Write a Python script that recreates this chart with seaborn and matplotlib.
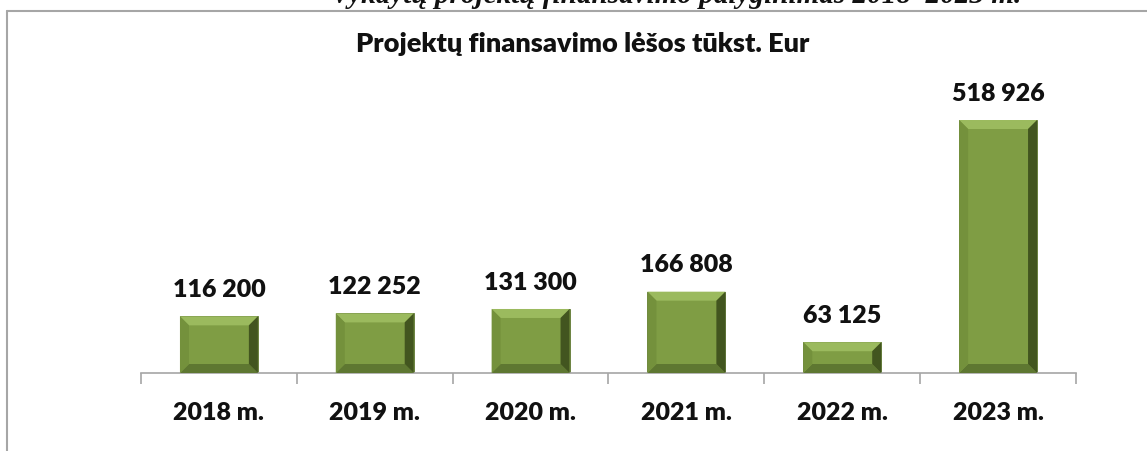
import matplotlib
matplotlib.use("Agg")
import matplotlib.pyplot as plt
import seaborn as sns
import pandas as pd
from matplotlib.patches import Polygon
from matplotlib.lines import Line2D

years = ["2018 m.", "2019 m.", "2020 m.", "2021 m.", "2022 m.", "2023 m."]
values = [116200, 122252, 131300, 166808, 63125, 518926]
value_labels = ["116 200", "122 252", "131 300", "166 808", "63 125", "518 926"]
chart_title = "Projektų finansavimo lėšos tūkst. Eur"
page_title = "Vykdytų projektų finansavimo palyginimas 2018–2023 m."

sns.set_theme(style="white")
plt.rcParams['font.family'] = ['Lato', 'DejaVu Sans']

W, H = 1147, 451
fig = plt.figure(figsize=(W / 100, H / 100), dpi=100)
ax = fig.add_axes([141 / W, 1 - 373 / H, (1076 - 141) / W, (373 - 60) / H])

df = pd.DataFrame({"year": years, "value": values})
face = "#7F9D44"
sns.barplot(data=df, x="year", y="value", color=face, width=0.5, ax=ax,
            saturation=1, edgecolor="#5F7832", linewidth=0.6)

ax.set_xlim(-0.5, 5.5)
ax.set_ylim(0, 642000)
ax.set_yticks([])
ax.set_xlabel("")
ax.set_ylabel("")
for s in ["top", "right", "left"]:
    ax.spines[s].set_visible(False)
ax.spines["bottom"].set_color("#A6A6A6")
ax.spines["bottom"].set_linewidth(1.2)
ax.set_xticks(range(len(years)))
ax.set_xticklabels(years, fontsize=18, fontweight="heavy", color="#111111")
ax.tick_params(axis="x", which="major", length=0, pad=21)
ax.set_xticks([i - 0.5 for i in range(len(years) + 1)], minor=True)
ax.tick_params(axis="x", which="minor", length=8, width=1.2, color="#A6A6A6", bottom=True)

# bevel effect derived from the drawn bars
fig.canvas.draw()
to_disp = ax.transData
to_data = ax.transData.inverted()
bev = 9
cols = {"top": "#9BBA5E", "bottom": "#5E7731", "left": "#74913C", "right": "#42551F"}
for p in ax.patches:
    x0, y0 = p.get_x(), p.get_y()
    x1, y1 = x0 + p.get_width(), y0 + p.get_height()
    (X0, Y0), (X1, Y1) = to_disp.transform([(x0, y0), (x1, y1)])
    b = min(bev, (Y1 - Y0) / 3)
    pts = {
        "top": [(X0, Y1), (X1, Y1), (X1 - b, Y1 - b), (X0 + b, Y1 - b)],
        "bottom": [(X0, Y0), (X1, Y0), (X1 - b, Y0 + b), (X0 + b, Y0 + b)],
        "left": [(X0, Y0), (X0, Y1), (X0 + b, Y1 - b), (X0 + b, Y0 + b)],
        "right": [(X1, Y0), (X1, Y1), (X1 - b, Y1 - b), (X1 - b, Y0 + b)],
    }
    for k in ["top", "bottom", "left", "right"]:
        dpts = to_data.transform(pts[k])
        ax.add_patch(Polygon(dpts, closed=True, facecolor=cols[k], edgecolor="none", zorder=3))

for i, (v, lab) in enumerate(zip(values, value_labels)):
    ax.annotate(lab, (i, v), xytext=(0, 19), textcoords="offset points",
                ha="center", va="center", fontsize=18, fontweight="heavy", color="#111111")

fig.text(583 / W, 1 - 44 / H, chart_title, ha="center", va="center",
         fontsize=19.5, fontweight="heavy", color="#111111")
fig.text(676 / W, 1 - 3 / H, page_title, ha="center", va="baseline",
         fontsize=21, fontweight="bold", fontstyle="italic",
         family=["Liberation Serif", "DejaVu Serif"], color="#111111")

fig.add_artist(Line2D([7 / W, 1], [1 - 11 / H, 1 - 11 / H], transform=fig.transFigure,
                      color="#A6A6A6", linewidth=1.5))
fig.add_artist(Line2D([7 / W, 7 / W], [0, 1 - 11 / H], transform=fig.transFigure,
                      color="#A6A6A6", linewidth=1.5))

fig.savefig("out.png", dpi=100)
